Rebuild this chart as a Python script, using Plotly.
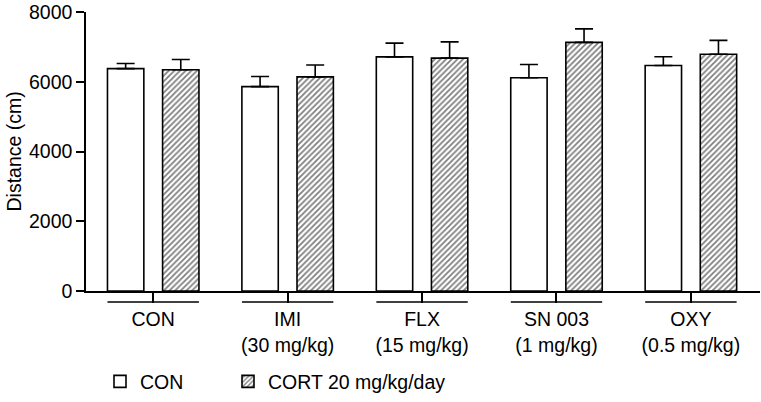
import plotly.graph_objects as go

groups = ["CON", "IMI<br>(30 mg/kg)", "FLX<br>(15 mg/kg)", "SN 003<br>(1 mg/kg)", "OXY<br>(0.5 mg/kg)"]
con_mean = [6375, 5860, 6713, 6113, 6465]
con_sem = [150, 290, 395, 383, 253]
cort_mean = [6346, 6141, 6678, 7130, 6790]
cort_sem = [290, 338, 466, 385, 395]
y_ticks = [0, 2000, 4000, 6000, 8000]

FONT = "Liberation Sans, Arial, sans-serif"
FS = 19.5
idx = list(range(len(groups)))

fig = go.Figure()
fig.add_trace(go.Bar(
    x=idx, y=con_mean, name="CON", legend="legend",
    marker=dict(color="white", line=dict(color="black", width=1.6)),
    error_y=dict(type="data", symmetric=False, array=con_sem,
                 arrayminus=[0] * len(con_sem), color="black", thickness=1.6, width=9),
))
fig.add_trace(go.Bar(
    x=idx, y=cort_mean, name="CORT 20 mg/kg/day", legend="legend2",
    marker=dict(color="white", line=dict(color="black", width=1.6),
                pattern=dict(shape="/", fgcolor="black", bgcolor="white", size=4, solidity=0.45)),
    error_y=dict(type="data", symmetric=False, array=cort_sem,
                 arrayminus=[0] * len(cort_sem), color="black", thickness=1.6, width=9),
))

# group underline shapes (span of the two bars in each group)
half_span = 0.34
for i in idx:
    fig.add_shape(type="line", xref="x", yref="paper",
                  x0=i - half_span, x1=i + half_span, y0=-0.039, y1=-0.039,
                  line=dict(color="black", width=1.5))

leg_common = dict(orientation="h", yanchor="middle", y=-0.325, xanchor="left",
                  font=dict(size=FS), bgcolor="rgba(0,0,0,0)")
fig.update_layout(
    width=761, height=402,
    margin=dict(l=86, r=1, t=7, b=110),
    plot_bgcolor="white", paper_bgcolor="white",
    barmode="group", bargap=0.18, bargroupgap=0.34,
    font=dict(family=FONT, size=FS, color="black"),
    showlegend=True,
    legend=dict(x=(100 - 86) / 674, **leg_common),
    legend2=dict(x=(228 - 86) / 674, **leg_common),
    xaxis=dict(
        tickmode="array", tickvals=idx, ticktext=groups,
        range=[-0.5, 4.514], showline=True, linecolor="black", linewidth=1.5,
        ticks="outside", ticklen=10, tickwidth=1.5, tickcolor="black",
        showgrid=False, zeroline=False, tickfont=dict(size=FS),
        ticklabelstandoff=0,
    ),
    yaxis=dict(
        range=[0, 8000], tickvals=y_ticks, showline=True, linecolor="black", linewidth=1.5,
        ticks="outside", ticklen=8, tickwidth=1.5, tickcolor="black",
        showgrid=False, zeroline=False, tickfont=dict(size=FS),
        ticklabeloverflow="allow",
    ),
    annotations=[dict(text="Distance (cm)", xref="paper", yref="paper",
                      x=(13 - 86) / 674, y=0.5, xanchor="center", yanchor="middle",
                      textangle=-90, showarrow=False, font=dict(size=FS))],
)

fig.write_html("out.html", config={"displayModeBar": False},
               post_script="document.body.style.margin='0';document.body.style.overflow='hidden';")
